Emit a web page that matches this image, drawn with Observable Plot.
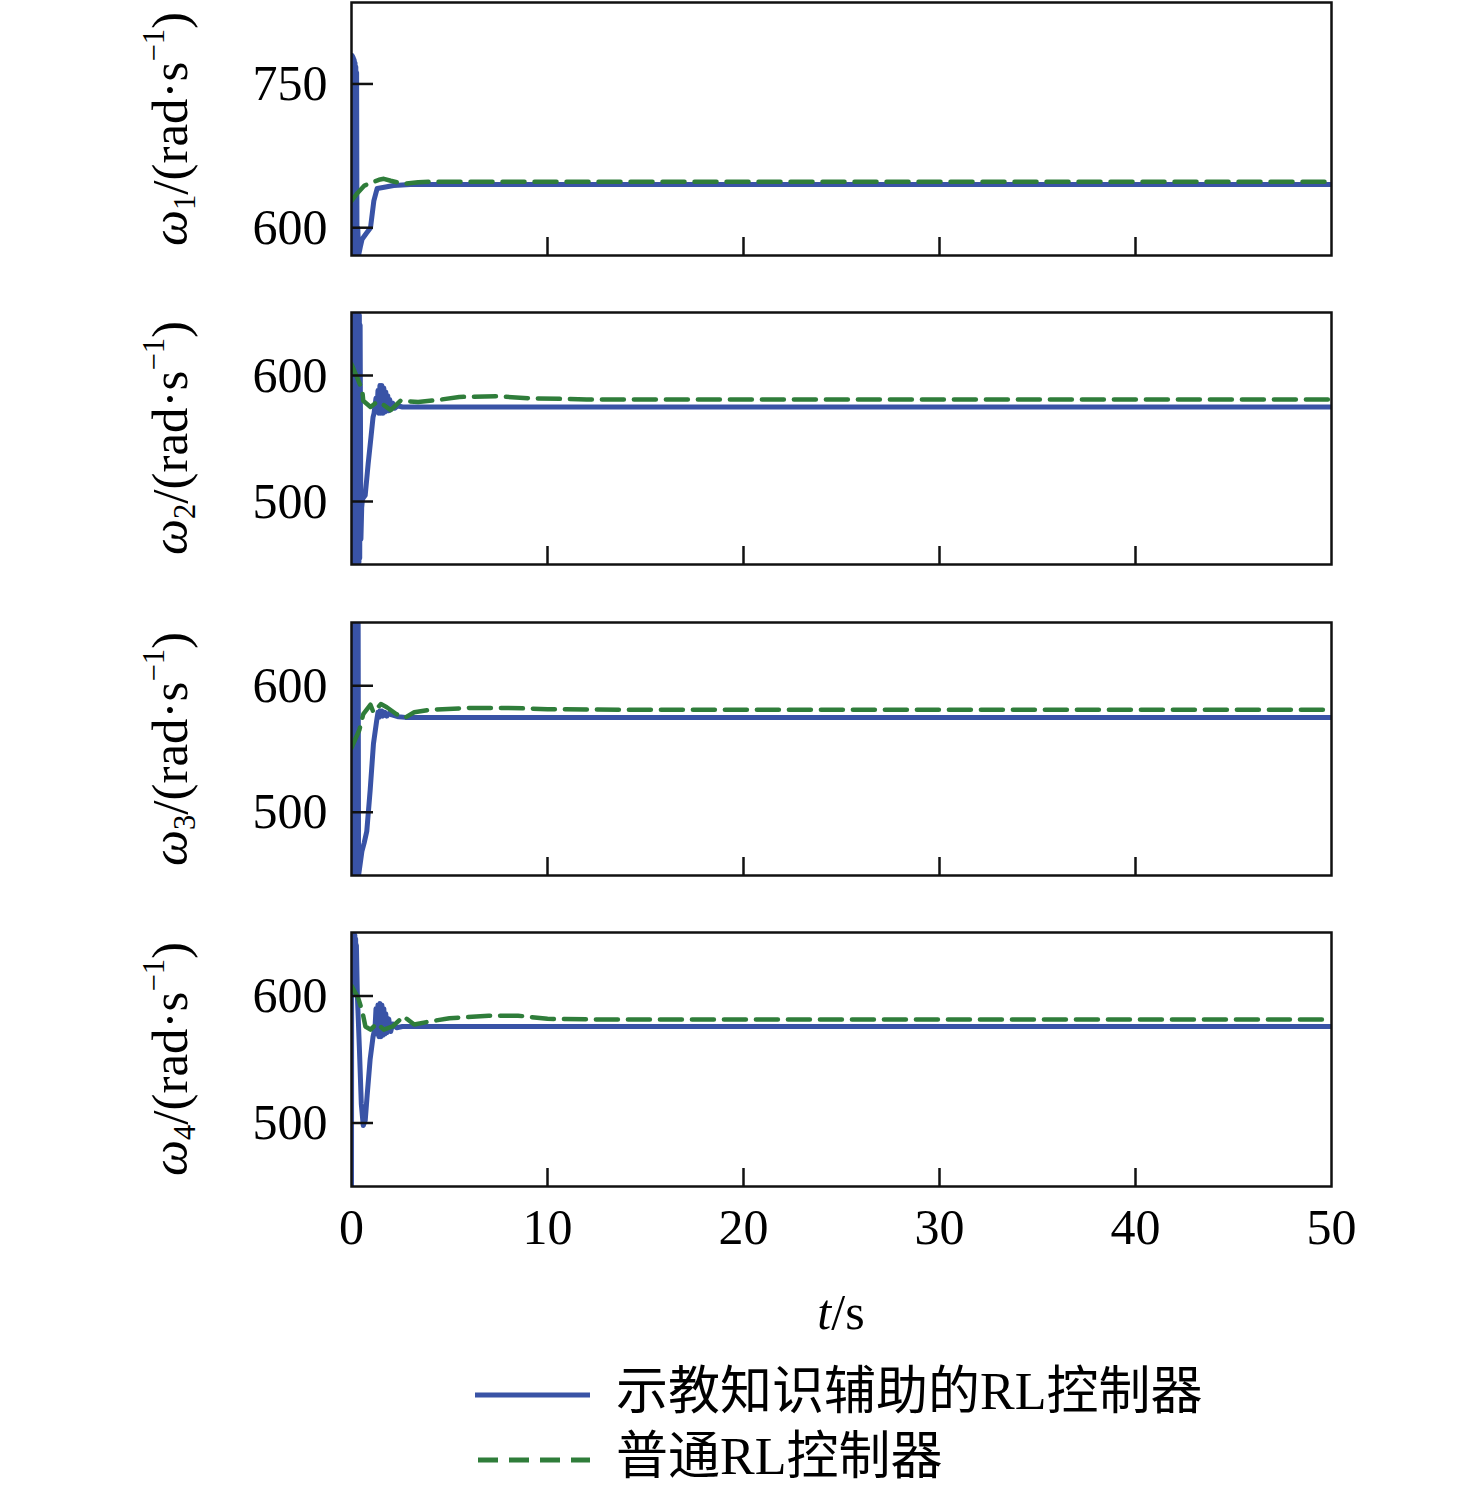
<!DOCTYPE html>
<html>
<head>
<meta charset="utf-8">
<script src="https://cdn.jsdelivr.net/npm/d3@7"></script>
<script src="https://cdn.jsdelivr.net/npm/@observablehq/plot@0.6"></script>
<style>
  html, body { margin: 0; padding: 0; background: #fff; }
  #wrap { position: relative; width: 1476px; height: 1491px; overflow: hidden; font-family: "Liberation Serif", "Noto Sans CJK SC", serif; color: #000; }
  .pane { position: absolute; left: 0; }
  .ylab { position: absolute; white-space: nowrap; font-size: 51px; line-height: 1; transform: translate(-50%, -50%) rotate(-90deg); }
  .ylab sub { font-size: 0.6em; vertical-align: -0.28em; }
  .ylab sup { font-size: 0.6em; vertical-align: 0.75em; }
  .txt { position: absolute; white-space: nowrap; font-size: 50px; line-height: 60px; }
</style>
</head>
<body>
<div id="wrap"></div>
<script>
// ---------------- data ----------------
const xTicks = [0, 10, 20, 30, 40, 50];
const xInnerTicks = [10, 20, 30, 40];

// panel 1 (omega_1)
const yTicks1 = [600, 750];
const t1Blue = [0, 0.02, 0.04, 0.06, 0.08, 0.10, 0.12, 0.14, 0.16, 0.18, 0.20, 0.22, 0.24, 0.26, 0.28, 0.32, 0.37, 0.45, 0.54, 0.75, 0.97, 1.14, 1.31, 1.6, 2.15, 3, 5, 50];
const w1Blue = [625, 780, 574, 779, 573, 777, 573, 775, 574, 772, 575, 768, 577, 762, 580, 600, 572, 580, 588, 594, 600, 628, 641, 642, 644, 645, 645, 645];
const t1Green = [0, 0.3, 0.66, 0.9, 1.14, 1.4, 1.65, 2.0, 2.4, 2.8, 3.4, 4.2, 5, 50];
const w1Green = [628, 636, 644, 646, 648, 650, 651, 649, 647, 646, 647.5, 648, 648, 648];

// panel 2 (omega_2)
const yTicks2 = [500, 600];
const t2Blue = [0, 0.02, 0.04, 0.06, 0.08, 0.10, 0.12, 0.14, 0.16, 0.18, 0.20, 0.22, 0.24, 0.26, 0.28, 0.30, 0.32, 0.34, 0.36, 0.38, 0.40, 0.42, 0.44,
  0.48, 0.52, 0.56, 0.7, 0.85, 1.0, 1.1, 1.15,
  1.25, 1.3, 1.35, 1.4, 1.45, 1.5, 1.55, 1.6, 1.65, 1.7, 1.75, 1.8, 1.85, 1.9, 1.95, 2.0,
  2.1, 2.2, 2.35, 2.6, 3, 50];
const w2Blue = [650, 450, 650, 450, 650, 450, 650, 450, 650, 450, 650, 450, 650, 450, 650, 450, 650, 450, 650, 452, 648, 455, 640,
  470, 495, 502, 505, 530, 552, 567, 570,
  582, 571, 588, 570, 592, 570, 592, 570, 590, 571, 587, 572, 584, 572, 581, 573,
  578, 574, 576, 575, 575, 575];
const t2Green = [0, 0.3, 0.55, 0.6, 0.97, 1.3, 1.65, 2.0, 2.5, 3.4, 4.6, 5.5, 7.5, 9, 12, 50];
const w2Green = [609, 598, 588, 580, 575, 579, 576.5, 572.5, 580, 579, 581, 583, 583.5, 582, 581, 581];

// panel 3 (omega_3)
const yTicks3 = [500, 600];
const t3Blue = [0, 0.02, 0.04, 0.06, 0.08, 0.10, 0.12, 0.14, 0.16, 0.18, 0.20, 0.22, 0.24, 0.26, 0.28, 0.30, 0.32, 0.34, 0.36,
  0.45, 0.53, 0.65, 0.78, 0.95, 1.12, 1.29,
  1.35, 1.4, 1.45, 1.5, 1.55, 1.6, 1.7, 1.8, 1.9, 2.06, 2.4, 2.74, 50];
const w3Blue = [560, 650, 450, 650, 450, 650, 450, 650, 450, 650, 450, 650, 450, 650, 450, 650, 450, 650, 450,
  460, 469, 476, 485, 517, 554, 573,
  579, 575, 580, 576, 580, 576, 579, 576, 578, 577, 575.5, 575, 575];
const t3Green = [0, 0.4, 0.6, 0.97, 1.12, 1.5, 1.8, 2.3, 2.75, 3.2, 4, 6, 8, 10, 14, 50];
const w3Green = [551, 565, 577.5, 585, 579, 585.5, 583, 577.5, 575, 579, 581, 582.5, 582.5, 581.5, 581, 581];

// panel 4 (omega_4)
const yTicks4 = [500, 600];
const t4Blue = [0, 0.01, 0.03, 0.05, 0.07, 0.09, 0.11, 0.13, 0.15, 0.17, 0.19, 0.21, 0.23, 0.25,
  0.3, 0.4, 0.5, 0.6, 0.7, 0.8, 0.95, 1.1, 1.2,
  1.25, 1.3, 1.35, 1.4, 1.45, 1.5, 1.55, 1.6, 1.65, 1.7, 1.75, 1.8,
  1.9, 2.0, 2.1, 2.3, 2.6, 3, 50];
const w4Blue = [450, 650, 600, 650, 602, 650, 604, 650, 606, 648, 608, 645, 610, 640,
  600, 560, 515, 498, 502, 522, 550, 568, 575,
  590, 570, 593, 568, 594, 568, 593, 569, 590, 570, 586, 571,
  582, 572, 578, 575, 576, 576, 576];
const t4Green = [0, 0.34, 0.55, 0.71, 0.97, 1.3, 1.65, 2.1, 2.65, 3.2, 4, 5, 7, 8.5, 10, 13, 50];
const w4Green = [608, 598.5, 588, 576, 573.5, 578.5, 573.5, 576, 584, 577.5, 580, 582.5, 584.5, 584.5, 582, 581.5, 581.5];

const seriesNames = ["示教知识辅助的RL控制器", "普通RL控制器"];
const yLabelSub = ["1", "2", "3", "4"];
const xLabel = "s";

// ---------------- drawing ----------------
const BLUE = "#3953a6";
const GREEN = "#2f7d3a";
const wrap = document.getElementById("wrap");
const innerW = 980;

const panels = [
  {tA: t1Blue, wA: w1Blue, tB: t1Green, wB: w1Green, domain: [571, 835], ticks: yTicks1, top: 2, h: 253},
  {tA: t2Blue, wA: w2Blue, tB: t2Green, wB: w2Green, domain: [450, 650], ticks: yTicks2, top: 312, h: 252},
  {tA: t3Blue, wA: w3Blue, tB: t3Green, wB: w3Green, domain: [450, 650], ticks: yTicks3, top: 622, h: 253},
  {tA: t4Blue, wA: w4Blue, tB: t4Green, wB: w4Green, domain: [450, 650], ticks: yTicks4, top: 932, h: 254, last: true}
];

panels.forEach((p, i) => {
  const mt = 8, mb = p.last ? 80 : 8;
  const rowsA = p.tA.map((t, k) => ({t, w: p.wA[k]}));
  const rowsB = p.tB.map((t, k) => ({t, w: p.wB[k]}));
  const chart = Plot.plot({
    width: 1476,
    height: p.h + mt + mb,
    marginLeft: 351,
    marginRight: 145,
    marginTop: mt,
    marginBottom: mb,
    style: {fontFamily: "Liberation Serif", fontSize: "50px", color: "#000", background: "transparent", overflow: "visible"},
    x: p.last
      ? {domain: [0, 50], ticks: xTicks, tickSize: 0, tickPadding: 22, label: null, tickFormat: d => String(d)}
      : {domain: [0, 50], axis: null},
    y: {domain: p.domain, ticks: p.ticks, tickSize: 0, tickPadding: 24, label: null, tickFormat: d => String(d)},
    marks: [
      Plot.line(rowsA, {x: "t", y: "w", stroke: BLUE, strokeWidth: 5, clip: true}),
      Plot.line(rowsB, {x: "t", y: "w", stroke: GREEN, strokeWidth: 4.5, strokeDasharray: "22,10", clip: true}),
      Plot.tickX(xInnerTicks, {x: d => d, insetTop: p.h - 18, stroke: "#111", strokeWidth: 2.5}),
      Plot.tickY(p.ticks, {y: d => d, insetRight: innerW - 22, stroke: "#111", strokeWidth: 2.5}),
      Plot.frame({stroke: "#111", strokeWidth: 2.5})
    ]
  });
  const div = document.createElement("div");
  div.className = "pane";
  div.style.top = (p.top - mt) + "px";
  div.appendChild(chart);
  wrap.appendChild(div);

  const lab = document.createElement("div");
  lab.className = "ylab";
  lab.style.left = "170px";
  lab.style.top = (p.top + p.h / 2) + "px";
  lab.innerHTML = `<i>ω</i><sub>${yLabelSub[i]}</sub>/(rad·s<sup>−1</sup>)`;
  wrap.appendChild(lab);
});

// x axis title
const xt = document.createElement("div");
xt.className = "txt";
xt.style.left = "841px";
xt.style.top = (1312 - 30) + "px";
xt.style.transform = "translateX(-50%)";
xt.innerHTML = `<i>t</i>/${xLabel}`;
wrap.appendChild(xt);

// legend
const ns = "http://www.w3.org/2000/svg";
const leg = document.createElementNS(ns, "svg");
leg.setAttribute("width", "140");
leg.setAttribute("height", "100");
leg.style.position = "absolute";
leg.style.left = "465px";
leg.style.top = "1370px";
const l1 = document.createElementNS(ns, "line");
l1.setAttribute("x1", 10); l1.setAttribute("x2", 125); l1.setAttribute("y1", 25); l1.setAttribute("y2", 25);
l1.setAttribute("stroke", BLUE); l1.setAttribute("stroke-width", 5);
const l2 = document.createElementNS(ns, "line");
l2.setAttribute("x1", 13); l2.setAttribute("x2", 125); l2.setAttribute("y1", 90); l2.setAttribute("y2", 90);
l2.setAttribute("stroke", GREEN); l2.setAttribute("stroke-width", 5); l2.setAttribute("stroke-dasharray", "20,11");
leg.appendChild(l1); leg.appendChild(l2);
wrap.appendChild(leg);

[[seriesNames[0], 1393], [seriesNames[1], 1458]].forEach(([s, cy]) => {
  const d = document.createElement("div");
  d.className = "txt";
  d.style.left = "616px";
  d.style.top = (cy - 31) + "px";
  d.style.fontSize = "52px";
  d.textContent = s;
  wrap.appendChild(d);
});
</script>
</body>
</html>
